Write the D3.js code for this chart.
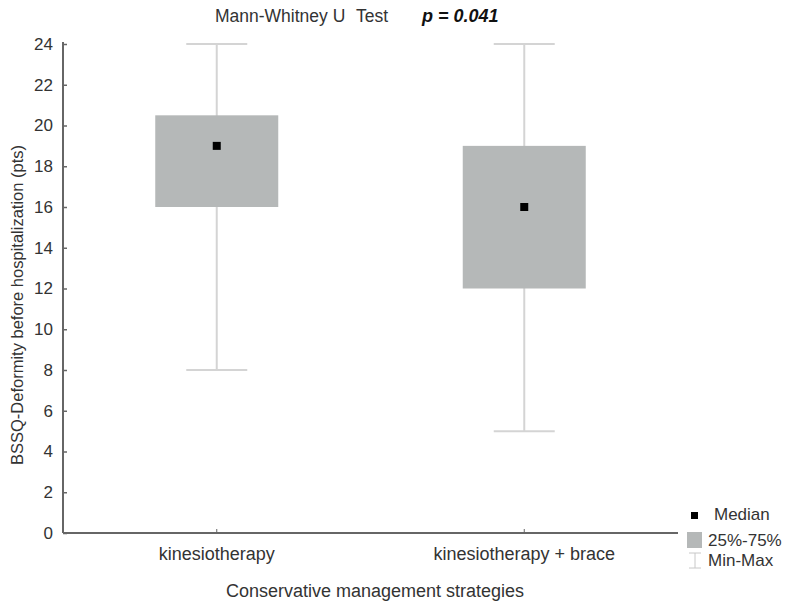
<!DOCTYPE html>
<html><head><meta charset="utf-8">
<script src="https://cdn.jsdelivr.net/npm/d3@7"></script>
<style>body{margin:0;background:#fff}svg{display:block}text{font-family:Arial,"Liberation Sans",sans-serif}</style>
</head><body><svg id="c" width="785" height="605"></svg>
<script>
const categories = ["kinesiotherapy", "kinesiotherapy + brace"];
const minVals = [8, 5];
const q1Vals = [16, 12];
const medianVals = [19, 16];
const q3Vals = [20.5, 19];
const maxVals = [24, 24];
const yTicks = [0, 2, 4, 6, 8, 10, 12, 14, 16, 18, 20, 22, 24];

(function(){
const svg = d3.select("#c");
const mLeft = 63, mRight = 678, mTop = 44, mBottom = 533;
const x = d3.scaleBand().domain(categories).range([mLeft, mRight]);
const y = d3.scaleLinear().domain([0, 24]).range([mBottom, mTop]);
const boxW = 123, capW = 61;
const axisCol = "#666", textCol = "#333";

const data = categories.map((c, i) => ({c, min: minVals[i], q1: q1Vals[i], med: medianVals[i], q3: q3Vals[i], max: maxVals[i]}));
const g = svg.append("g");
data.forEach(d => {
  const cx = x(d.c) + x.bandwidth() / 2;
  const wc = "#d4d4d4";
  g.append("line").attr("x1", cx).attr("x2", cx).attr("y1", y(d.max)).attr("y2", y(d.min)).attr("stroke", wc).attr("stroke-width", 2);
  [d.min, d.max].forEach(v => g.append("line").attr("x1", cx - capW/2).attr("x2", cx + capW/2).attr("y1", y(v)).attr("y2", y(v)).attr("stroke", wc).attr("stroke-width", 2));
  g.append("rect").attr("x", cx - boxW/2).attr("width", boxW).attr("y", y(d.q3)).attr("height", y(d.q1) - y(d.q3)).attr("fill", "#b5b8b8");
  g.append("rect").attr("x", cx - 4).attr("y", y(d.med) - 4).attr("width", 8).attr("height", 8).attr("fill", "#000");
});

const yAxis = svg.append("g").attr("transform", `translate(${mLeft},0)`)
  .call(d3.axisLeft(y).tickValues(yTicks).tickSize(-4).tickPadding(10));
yAxis.select(".domain").attr("stroke", axisCol).attr("stroke-width", 2).attr("d", `M0,${mTop-2}V${mBottom}`);
yAxis.selectAll(".tick line").attr("stroke", axisCol).attr("stroke-width", 1.5);
yAxis.selectAll(".tick text").attr("fill", textCol).attr("font-size", 17);

const xAxis = svg.append("g").attr("transform", `translate(0,${mBottom})`)
  .call(d3.axisBottom(x).tickSize(-4));
xAxis.select(".domain").attr("stroke", axisCol).attr("stroke-width", 2).attr("d", `M${mLeft},0H${mRight}`);
xAxis.selectAll(".tick line").attr("stroke", axisCol).attr("stroke-width", 1);
xAxis.selectAll(".tick text").attr("fill", textCol).attr("font-size", 18).attr("y", 27).attr("dy", 0);

const t = svg.append("text").attr("y", 22).attr("font-size", 17.5).attr("fill", textCol);
t.append("tspan").attr("x", 215).text("Mann-Whitney U");
t.append("tspan").attr("x", 356).text("Test");
svg.append("text").attr("x", 422).attr("y", 22).attr("font-size", 18).attr("fill", "#111").attr("font-weight", "bold").attr("font-style", "italic").text("p = 0.041");
svg.append("text").attr("transform", "translate(23,305) rotate(-90)").attr("text-anchor", "middle").attr("font-size", 16.5).attr("fill", textCol).text("BSSQ-Deformity before hospitalization (pts)");
svg.append("text").attr("x", 375).attr("y", 597).attr("text-anchor", "middle").attr("font-size", 18).attr("fill", textCol).text("Conservative management strategies");

const lg = svg.append("g");
lg.append("rect").attr("x", 691).attr("y", 512).attr("width", 7).attr("height", 7).attr("fill", "#000");
lg.append("text").attr("x", 714).attr("y", 520).attr("font-size", 17).attr("fill", textCol).text("Median");
lg.append("rect").attr("x", 687).attr("y", 532).attr("width", 15).attr("height", 16).attr("fill", "#b5b8b8");
lg.append("text").attr("x", 708).attr("y", 546).attr("font-size", 17).attr("fill", textCol).text("25%-75%");
const mc = "#c8c8c8";
lg.append("line").attr("x1", 689).attr("x2", 701).attr("y1", 553).attr("y2", 553).attr("stroke", mc);
lg.append("line").attr("x1", 689).attr("x2", 701).attr("y1", 568).attr("y2", 568).attr("stroke", mc);
lg.append("line").attr("x1", 695).attr("x2", 695).attr("y1", 553).attr("y2", 568).attr("stroke", mc);
lg.append("text").attr("x", 708).attr("y", 566).attr("font-size", 17).attr("fill", textCol).text("Min-Max");
})();
</script></body></html>
